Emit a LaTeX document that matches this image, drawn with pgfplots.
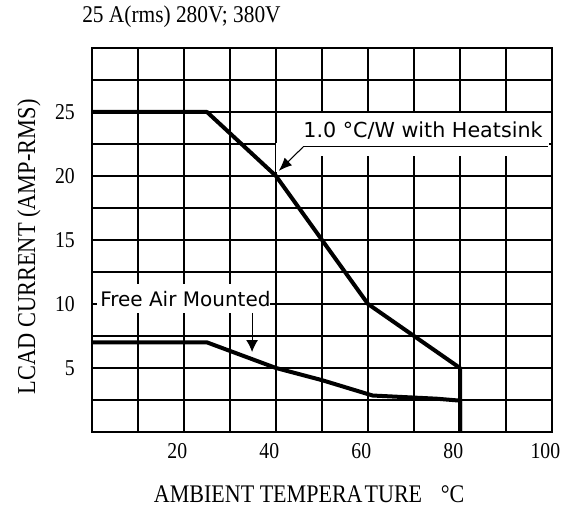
\documentclass[border=0pt]{standalone}
\usepackage{fontspec}
\setmainfont{Liberation Serif}
\newfontfamily\lab[FakeStretch=0.87]{Liberation Serif}
\newfontfamily\ttl[FakeStretch=0.89]{Liberation Serif}
\newfontfamily\ann{DejaVu Sans}
\usepackage{pgfplots}
\pgfplotsset{compat=1.18}
\usetikzlibrary{arrows.meta}
\begin{document}
\begin{tikzpicture}
\path[use as bounding box] (-69pt,-58.5pt) rectangle (360.75pt,324pt);
\begin{axis}[
 scale only axis, width=345pt, height=288pt,
 xmin=0, xmax=100, ymin=0, ymax=30,
 xtick={0,10,20,30,40,50,60,70,80,90,100},
 xticklabels={,,20,,40,,60,,80,,100},
 ytick={0,2.5,5,7.5,10,12.5,15,17.5,20,22.5,25,27.5,30},
 yticklabels={,,5,,10,,15,,20,,25,,},
 grid=major,
 major grid style={black, line width=1.1pt},
 axis line style={black, line width=1.1pt},
 major tick length=0pt,
 /pgf/number format/assume math mode=true,
 ticklabel style={font=\lab\fontsize{17}{17}\selectfont, inner sep=0pt},
 xticklabel style={anchor=north, yshift=-8.25pt, xshift=-5pt},
 yticklabel style={anchor=east, xshift=-12.75pt},
 xlabel={AMBIENT TEMPERA\kern1.5pt TURE\hspace{14pt}°C},
 xlabel style={at={(axis description cs:0.472,0)}, anchor=north, inner sep=0pt, yshift=-39.75pt, font=\lab\fontsize{19}{19}\selectfont},
 ylabel={LCAD CURRENT (AMP-RMS)},
 ylabel style={at={(axis description cs:-0.163,0.482)}, anchor=north, inner sep=0pt, font=\lab\fontsize{19.3}{19.3}\selectfont},
 title={25 A(rms) 280V; 380V},
 title style={at={(axis description cs:-0.0217,1.045)}, anchor=base west, inner sep=0pt, font=\ttl\fontsize{18}{18}\selectfont},
]
% white boxes behind annotations
\fill[white] (axis cs:45.9,21.6) rectangle (axis cs:99.3,24.9);
\fill[white] (axis cs:40.1,20.3) rectangle (axis cs:45.9,22.6);
\fill[white] (axis cs:1.1,9.3) rectangle (axis cs:38.7,11.6);

% 1.0 C/W with heatsink
\addplot[black, line width=3pt, line join=round] coordinates {
 (0,25) (25,25) (40,20) (50,15) (60,10) (70,7.5) (80,5) (80,0)
};
% free air mounted
\addplot[black, line width=3pt, line join=round] coordinates {
 (0,7) (25,7) (40,5) (50,4.05) (61,2.85) (75,2.6) (80,2.45) (80,0)
};

\node[anchor=base west, inner sep=0pt, font=\ann\fontsize{15.5}{15.5}\selectfont] at (axis cs:45.9,22.97) {1.0 °C/W with Heatsink};
\draw[line width=0.8pt] (axis cs:45.9,22.27) -- (axis cs:99.1,22.27);
\draw[line width=0.8pt, -{Latex[length=10pt,width=8pt]}] (axis cs:45.9,22.27) -- (axis cs:40.6,20.4);

\node[anchor=base west, inner sep=0pt, font=\ann\fontsize{15}{15}\selectfont] at (axis cs:1.74,9.84) {Free Air Mounted};
\draw[line width=0.8pt, -{Latex[length=9pt,width=9pt]}] (axis cs:34.8,9.3) -- (axis cs:34.8,6.25);
\end{axis}
\end{tikzpicture}
\end{document}
